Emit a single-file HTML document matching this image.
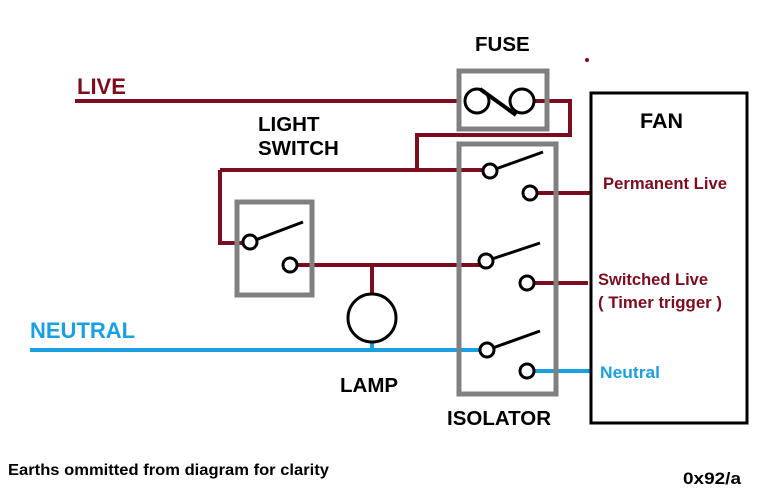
<!DOCTYPE html>
<html><head><style>body{margin:0;background:#fff}svg{display:block}</style></head><body>
<svg width="783" height="490" xmlns="http://www.w3.org/2000/svg" font-family="Liberation Sans, sans-serif" font-weight="bold">
<rect width="783" height="490" fill="#fff"/>
<g fill="none" stroke="#7b0d1e" stroke-width="4">
<path d="M75 101H460"/>
<path d="M534 101H570V134"/>
<path d="M572 135H417V170"/>
<path d="M220 170H490"/>
<path d="M220 170V243H250"/>
<path d="M290 265H486"/>
<path d="M372 265V295"/>
<path d="M528 193H590"/>
<path d="M527 283H588"/>
</g>
<g fill="none" stroke="#1a9fdf" stroke-width="4">
<path d="M30 350H487"/>
<path d="M372 342V350"/>
<path d="M527 371H590"/>
</g>
<g fill="none" stroke="#808080" stroke-width="5">
<rect x="459" y="71" width="88" height="58"/>
<rect x="459" y="144" width="97" height="250"/>
<rect x="237" y="202" width="75" height="93"/>
</g>
<rect x="591" y="93" width="156" height="330" fill="none" stroke="#000" stroke-width="3"/>
<circle cx="587" cy="60" r="2" fill="#7b0d1e"/>
<g fill="#fff" stroke="#000" stroke-width="3">
<circle cx="477" cy="101" r="12"/>
<circle cx="522" cy="101" r="12"/>
<path d="M480 89L516 115" fill="none" stroke-width="4"/>
<path d="M250 242L303 222M490 171L543 152M486 261L540 243M487 350L540 331" fill="none"/>
<circle cx="250" cy="242" r="7"/>
<circle cx="290" cy="265" r="7"/>
<circle cx="490" cy="171" r="7"/>
<circle cx="530" cy="193" r="7"/>
<circle cx="486" cy="261" r="7"/>
<circle cx="527" cy="283" r="7"/>
<circle cx="487" cy="350" r="7"/>
<circle cx="527" cy="371" r="7"/>
<circle cx="372" cy="318" r="24"/>
</g>
<text x="77" y="94" font-size="22" fill="#7b0d1e">LIVE</text>
<text x="30" y="338" font-size="22" fill="#1a9fdf">NEUTRAL</text>
<g font-size="20.5" fill="#000">
<text x="475" y="51">FUSE</text>
<text x="258" y="131">LIGHT</text>
<text x="258" y="155">SWITCH</text>
<text x="340" y="392">LAMP</text>
<text x="447" y="425">ISOLATOR</text>
<text x="640" y="128" font-size="21.5">FAN</text>
</g>
<g font-size="16.5" fill="#7b0d1e">
<text x="603" y="189" textLength="124" lengthAdjust="spacingAndGlyphs">Permanent Live</text>
<text x="598" y="285" textLength="110" lengthAdjust="spacingAndGlyphs">Switched Live</text>
<text x="598" y="308" textLength="124" lengthAdjust="spacingAndGlyphs">( Timer trigger )</text>
</g>
<text x="600" y="378" font-size="16.5" fill="#1a9fdf" textLength="60" lengthAdjust="spacingAndGlyphs">Neutral</text>
<text x="8" y="475" font-size="16" fill="#000" textLength="321" lengthAdjust="spacingAndGlyphs">Earths ommitted from diagram for clarity</text>
<text x="683" y="484" font-size="17" fill="#000" textLength="58" lengthAdjust="spacingAndGlyphs">0x92/a</text>
</svg>
</body></html>
